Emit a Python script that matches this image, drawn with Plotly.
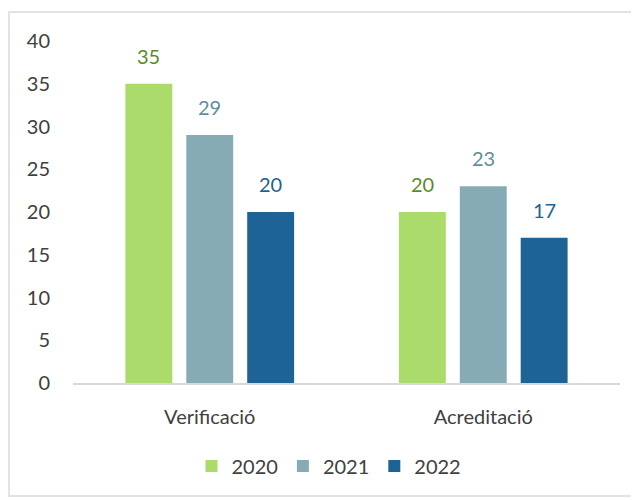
import plotly.graph_objects as go

categories = ["Verificació", "Acreditació"]
years = ["2020", "2021", "2022"]
values_2020 = [35, 20]
values_2021 = [29, 23]
values_2022 = [20, 17]

bar_colors = ["#aadb6b", "#86abb5", "#1d6395"]
label_colors = ["#5b8b28", "#5f8e9a", "#1d6395"]

plot_w = 547
bargap = 0.332
slot = (plot_w / len(categories)) * (1 - bargap) / len(years)

fig = go.Figure()
annotations = []
for i, (name, vals, bc, lc) in enumerate(zip(years, [values_2020, values_2021, values_2022], bar_colors, label_colors)):
    fig.add_trace(go.Bar(
        x=categories, y=vals, name=name,
        marker=dict(color=bc, line=dict(width=0)),
        hoverinfo="skip",
    ))
    for c, v in zip(categories, vals):
        annotations.append(dict(
            x=c, y=v, xref="x", yref="y", text=str(v), showarrow=False,
            xanchor="center", yanchor="bottom",
            xshift=(i - 1) * slot, yshift=14,
            font=dict(color=lc, size=20, family="Lato"),
        ))

# plot area in page pixels: x 73..620, y 41..383 (body margin of 8px included)
fig.update_layout(
    width=631, height=492,
    margin=dict(l=65, r=19, t=33, b=117),
    paper_bgcolor="white", plot_bgcolor="white",
    barmode="group", bargap=bargap, bargroupgap=0.23,
    font=dict(family="Lato", size=20, color="#404040"),
    showlegend=True,
    legend=dict(orientation="h", x=0.468, xanchor="center", y=-0.243, yanchor="middle",
                font=dict(size=20, color="#404040"), itemwidth=30, traceorder="normal"),
    xaxis=dict(showline=True, linecolor="#d9d9d9", linewidth=2, ticks="", showgrid=False,
               ticklabelstandoff=15, tickfont=dict(size=20, color="#404040")),
    yaxis=dict(range=[0, 40], dtick=5, showgrid=False, showline=False, zeroline=False,
               ticks="", ticklabelstandoff=22, tickfont=dict(size=20, color="#404040")),
    annotations=annotations,
    shapes=[dict(type="rect", xref="paper", yref="paper",
                 x0=(9 - 73) / 547, x1=(640 - 73) / 547,
                 y0=(383 - 496) / 342, y1=(383 - 12) / 342,
                 line=dict(color="#e3e3e3", width=2), layer="below")],
)

fig.write_html("out.html")
